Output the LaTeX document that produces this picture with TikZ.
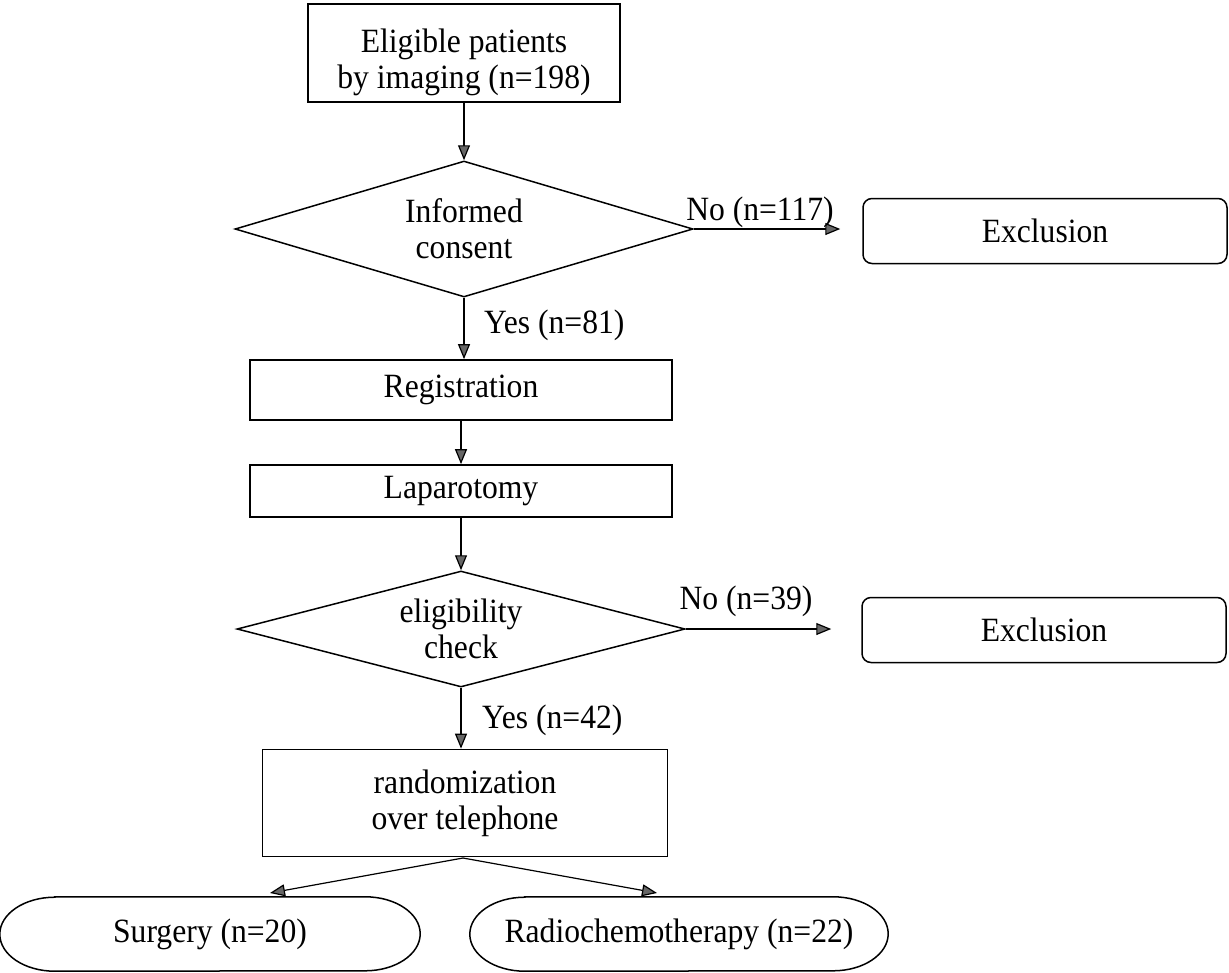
\documentclass[tikz,border=0pt]{standalone}
\usepackage{fontspec}
\setmainfont{Liberation Serif}[FakeStretch=0.93]
\usetikzlibrary{arrows.meta,shapes.geometric}
\begin{document}
\begin{tikzpicture}[x=1pt,y=-1pt,
  every node/.style={font=\fontsize{34}{36}\selectfont},
  box/.style={draw,line width=1.7pt,inner sep=0pt,align=center},
  excl/.style={draw,line width=1.5pt,rounded corners=9pt,inner sep=0pt,minimum width=364pt,minimum height=65pt},
  dec/.style={draw,line width=1.5pt,diamond,aspect=3.4,inner sep=0pt,align=center},
  pill/.style={inner sep=0pt,minimum height=74pt},
  pillline/.style={line width=1.5pt},
  lbl/.style={inner sep=0pt},
  arr/.style={line width=1.2pt,-{Triangle[length=15pt,width=12pt,fill=gray!80!black]}}
]
\useasboundingbox (0,0) rectangle (1229,972);
\node[box,minimum width=312pt,minimum height=98pt,text height=78pt] (elig) at (464,53) {Eligible patients\\by imaging (n=198)};
\node[dec,minimum width=458pt,minimum height=136pt] (cons) at (464,229) {Informed\\consent};
\node[excl] (ex1) at (1045,231) {Exclusion};
\node[box,minimum width=422pt,minimum height=60pt] (reg) at (461,390) {Registration};
\node[box,minimum width=422pt,minimum height=52pt] (lap) at (461,491) {Laparotomy};
\node[dec,minimum width=448pt,minimum height=116pt] (chk) at (461,629) {eligibility\\check};
\node[excl] (ex2) at (1044,630) {Exclusion};
\node[box,minimum width=405pt,minimum height=107pt] (rand) at (465,803) {randomization\\over telephone};
\node[pill,minimum width=420pt] (surg) at (210,934) {Surgery (n=20)};
\node[pill,minimum width=418pt] (radio) at (679,934) {Radiochemotherapy (n=22)};

\foreach \p in {surg,radio}{
  \draw[pillline] ([xshift=55pt]\p.north west) -- ([xshift=-55pt]\p.north east)
    arc[start angle=-90,end angle=90,x radius=55,y radius=37]
    -- ([xshift=55pt]\p.south west)
    arc[start angle=90,end angle=270,x radius=55,y radius=37] -- cycle;
}

\draw[arr] (elig.south) -- (cons.north);
\draw[arr] (cons.east) -- ([xshift=-22pt]ex1.west |- cons.east);
\draw[arr] (cons.south) -- (cons.south |- reg.north);
\draw[arr] (reg.south) -- (lap.north);
\draw[arr] (lap.south) -- (chk.north);
\draw[arr] (chk.east) -- ([xshift=-30pt]ex2.west |- chk.east);
\draw[arr] (chk.south) -- (rand.north -| chk.south);
\coordinate (c9) at (463,858);
\coordinate (c10) at (270,893);
\coordinate (c11) at (657,893);
\draw[arr] (c9) -- (c10);
\draw[arr] (c9) -- (c11);

\node[lbl] (no1) at (760,212) {No (n=117)};
\node[lbl,anchor=west] (yes1) at (484,325) {Yes (n=81)};
\node[lbl] (no2) at (746,601) {No (n=39)};
\node[lbl,anchor=west] (yes2) at (482,720) {Yes (n=42)};
\end{tikzpicture}
\end{document}
